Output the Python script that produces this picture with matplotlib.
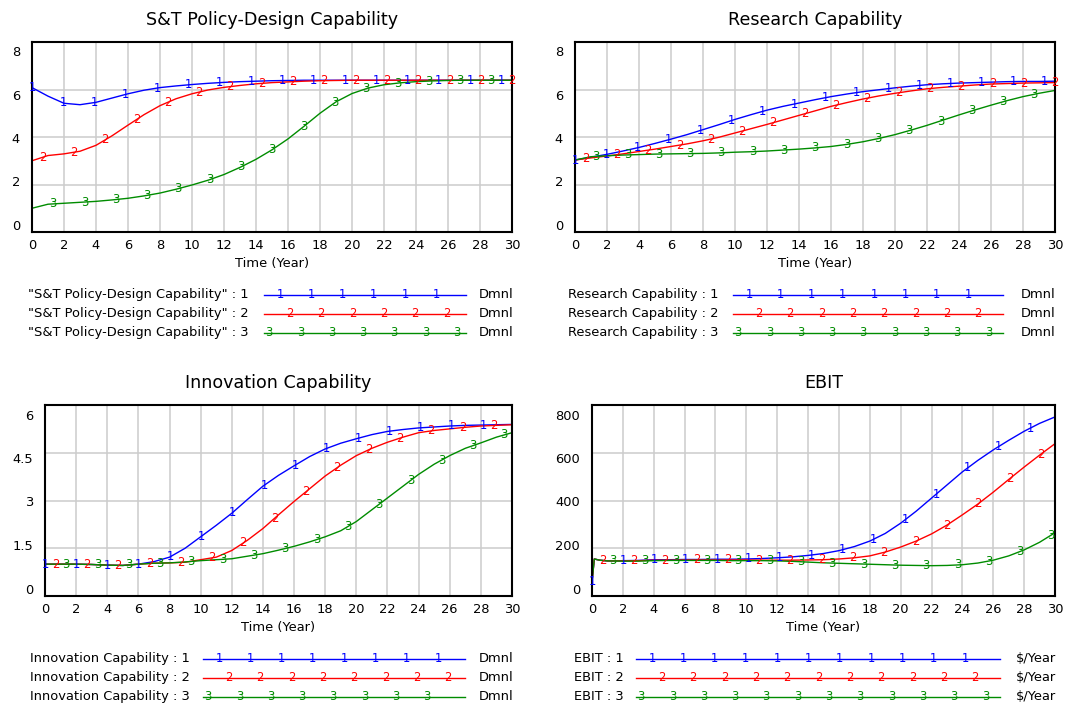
import numpy as np
import matplotlib.pyplot as plt
from matplotlib.lines import Line2D
from matplotlib.transforms import ScaledTranslation

plt.rcParams['font.family'] = ['DejaVu Sans']

W, H = 1071, 704

years = np.arange(0, 31)
ebit_years = np.concatenate([[0, 0.15, 0.5], np.arange(1, 31)])

# S&T Policy-Design Capability (Dmnl), runs 1-3
st_run1 = [6.08, 5.72, 5.42, 5.36, 5.46, 5.64, 5.82, 5.97, 6.08, 6.15, 6.21, 6.26, 6.30, 6.33, 6.35, 6.37,
           6.38, 6.39, 6.39, 6.39, 6.39, 6.39, 6.39, 6.39, 6.39, 6.39, 6.39, 6.39, 6.39, 6.39, 6.39]
st_run2 = [3.00, 3.22, 3.29, 3.40, 3.65, 4.05, 4.50, 4.94, 5.32, 5.61, 5.82, 5.98, 6.09, 6.17, 6.24, 6.29,
           6.32, 6.35, 6.37, 6.38, 6.39, 6.39, 6.39, 6.39, 6.39, 6.39, 6.39, 6.39, 6.39, 6.39, 6.39]
st_run3 = [1.00, 1.17, 1.21, 1.25, 1.29, 1.35, 1.42, 1.52, 1.64, 1.80, 1.98, 2.18, 2.42, 2.72, 3.06, 3.46,
           3.92, 4.45, 5.00, 5.48, 5.83, 6.06, 6.20, 6.28, 6.33, 6.36, 6.38, 6.39, 6.39, 6.39, 6.39]

# Research Capability (Dmnl)
rc_run1 = [3.03, 3.15, 3.27, 3.41, 3.56, 3.73, 3.91, 4.10, 4.31, 4.52, 4.74, 4.94, 5.13, 5.29, 5.43, 5.57,
           5.70, 5.81, 5.91, 5.99, 6.07, 6.14, 6.20, 6.24, 6.27, 6.29, 6.31, 6.33, 6.34, 6.34, 6.35]
rc_run2 = [3.03, 3.12, 3.20, 3.29, 3.39, 3.49, 3.60, 3.71, 3.84, 3.99, 4.17, 4.35, 4.53, 4.72, 4.91, 5.10,
           5.29, 5.45, 5.60, 5.73, 5.84, 5.94, 6.03, 6.09, 6.14, 6.19, 6.23, 6.25, 6.27, 6.28, 6.29]
rc_run3 = [3.03, 3.17, 3.21, 3.24, 3.26, 3.28, 3.29, 3.30, 3.31, 3.33, 3.36, 3.38, 3.41, 3.45, 3.49, 3.54,
           3.60, 3.69, 3.80, 3.94, 4.10, 4.29, 4.49, 4.71, 4.93, 5.14, 5.34, 5.53, 5.70, 5.84, 5.96]

# Innovation Capability (Dmnl)
ic_run1 = [1.00, 1.00, 1.00, 0.99, 0.97, 0.96, 1.00, 1.08, 1.22, 1.50, 1.86, 2.22, 2.60, 3.03, 3.45, 3.79,
           4.09, 4.38, 4.62, 4.80, 4.94, 5.07, 5.17, 5.23, 5.28, 5.31, 5.34, 5.36, 5.37, 5.38, 5.39]
ic_run2 = [1.00, 1.00, 1.00, 0.99, 0.97, 0.96, 1.00, 1.03, 1.04, 1.06, 1.14, 1.22, 1.43, 1.75, 2.12, 2.55,
           2.97, 3.37, 3.77, 4.11, 4.41, 4.64, 4.83, 4.99, 5.13, 5.20, 5.25, 5.30, 5.34, 5.36, 5.38]
ic_run3 = [1.00, 1.00, 1.00, 0.99, 0.97, 0.96, 1.00, 1.03, 1.04, 1.07, 1.11, 1.14, 1.17, 1.25, 1.33, 1.44,
           1.56, 1.70, 1.86, 2.05, 2.34, 2.71, 3.08, 3.45, 3.82, 4.14, 4.41, 4.64, 4.81, 4.99, 5.13]

# EBIT ($/Year)
ebit_run1 = [60, 155, 150, 147, 148, 149, 152, 152, 153, 153, 154, 154, 155, 157, 160, 164, 170,
             178, 190, 207, 230, 262, 305, 355, 410, 465, 520, 568, 612, 652, 690, 723, 750]
ebit_run2 = [60, 155, 150, 147, 147, 148, 150, 150, 151, 151, 151, 151, 151, 150, 150, 150, 151,
             152, 155, 160, 168, 184, 205, 230, 260, 297, 340, 385, 435, 488, 540, 590, 638]
ebit_run3 = [60, 155, 150, 147, 146, 146, 148, 149, 149, 149, 149, 148, 148, 148, 147, 145, 142,
             139, 137, 135, 133, 131, 129, 128, 127, 128, 131, 138, 150, 168, 193, 225, 265]

x_ticks = list(range(0, 31, 2))
dmnl_8_ticks = [0, 2, 4, 6, 8]
innov_ticks = [0, 1.5, 3, 4.5, 6]
innov_tick_labels = ['0', '1.5', '3', '4.5', '6']
ebit_ticks = [0, 200, 400, 600, 800]

colors = ['#0000ff', '#ff0000', '#008c00']

panels = [
    dict(title='S&T Policy-Design Capability', t=years, runs=[st_run1, st_run2, st_run3],
         yticks=dmnl_8_ticks, ylabels=[str(v) for v in dmnl_8_ticks],
         names=['"S&T Policy-Design Capability" : %d' % i for i in (1, 2, 3)], unit='Dmnl',
         box=(32, 42, 512, 232), leg=(249, 264, 466, 513)),
    dict(title='Research Capability', t=years, runs=[rc_run1, rc_run2, rc_run3],
         yticks=dmnl_8_ticks, ylabels=[str(v) for v in dmnl_8_ticks],
         names=['Research Capability : %d' % i for i in (1, 2, 3)], unit='Dmnl',
         box=(575, 42, 1055, 232), leg=(718, 733, 1003, 1056)),
    dict(title='Innovation Capability', t=years, runs=[ic_run1, ic_run2, ic_run3],
         yticks=innov_ticks, ylabels=innov_tick_labels,
         names=['Innovation Capability : %d' % i for i in (1, 2, 3)], unit='Dmnl',
         box=(45, 405, 512, 596), leg=(190, 203, 465, 513)),
    dict(title='EBIT', t=ebit_years, runs=[ebit_run1, ebit_run2, ebit_run3],
         yticks=ebit_ticks, ylabels=[str(v) for v in ebit_ticks],
         names=['EBIT : %d' % i for i in (1, 2, 3)], unit='$/Year',
         box=(592, 405, 1055, 596), leg=(624, 636, 1000, 1056)),
]

MARK_STEP = 31.3            # px between run-number markers
MARK_OFFSETS = [0, 10.5, 21]
LEG_OFFSETS = [16, 26, 5]
FS = 9.4
MARK_FS = 8.3

fig = plt.figure(figsize=(W / 100, H / 100), dpi=100)

for p in panels:
    x0, y0, x1, y1 = p['box']
    ax = fig.add_axes([x0 / W, 1 - y1 / H, (x1 - x0) / W, (y1 - y0) / H])
    ymax = p['yticks'][-1]
    ax.set_xlim(0, 30)
    ax.set_ylim(0, ymax)
    ax.set_xticks(x_ticks)
    ax.set_yticks(p['yticks'])
    ax.set_yticklabels([])
    ax.set_axisbelow(True)
    ax.grid(True, color='#cccccc', lw=1.1)
    ax.tick_params(length=0)
    ax.tick_params(axis='x', pad=5, labelsize=FS)
    for sp in ax.spines.values():
        sp.set_linewidth(1.5)

    # y labels are squeezed slightly inside the frame
    for v, lab in zip(p['yticks'], p['ylabels']):
        frac = v / ymax
        tr = ax.get_yaxis_transform() + ScaledTranslation(-12 / 100, (6 - 17 * frac) / 100,
                                                          fig.dpi_scale_trans)
        ax.text(0, v, lab, transform=tr, ha='right', va='center', fontsize=FS)

    ax.annotate(p['title'], xy=(0.5, 1), xycoords='axes fraction', xytext=(0, 16),
                textcoords='offset points', ha='center', va='center', fontsize=12.6)
    ax.set_xlabel('Time (Year)', fontsize=FS)
    ax.xaxis.set_label_coords(0.5, -32 / (y1 - y0))
    ax.xaxis.label.set_va('center')

    width_px = x1 - x0
    for k, (vals, c) in enumerate(zip(p['runs'], colors)):
        ax.plot(p['t'], vals, color=c, lw=1.0)
        pos = np.arange(MARK_OFFSETS[k], width_px + 0.5, MARK_STEP)
        tm = pos / width_px * 30
        ym = np.interp(tm, p['t'], vals)
        for a, b in zip(tm, ym):
            ax.text(a, b, str(k + 1), color=c, fontsize=MARK_FS, ha='center', va='center',
                    clip_on=False)

    # legend rows under the frame
    text_end, line0, line1, unit_end = p['leg']
    for k, (name, c) in enumerate(zip(p['names'], colors)):
        ry = 1 - (y1 + 62.5 + 19 * k) / H
        fig.text(text_end / W, ry, name, ha='right', va='center', fontsize=FS)
        fig.add_artist(Line2D([line0 / W, line1 / W], [ry, ry], color=c, lw=1.0,
                              transform=fig.transFigure))
        for mx in np.arange(line0 + LEG_OFFSETS[k], line1 - 9, MARK_STEP):
            fig.text(mx / W, ry, str(k + 1), color=c, ha='center', va='center', fontsize=MARK_FS)
        fig.text(unit_end / W, ry, p['unit'], ha='right', va='center', fontsize=FS)

fig.savefig('out.png', dpi=100)
